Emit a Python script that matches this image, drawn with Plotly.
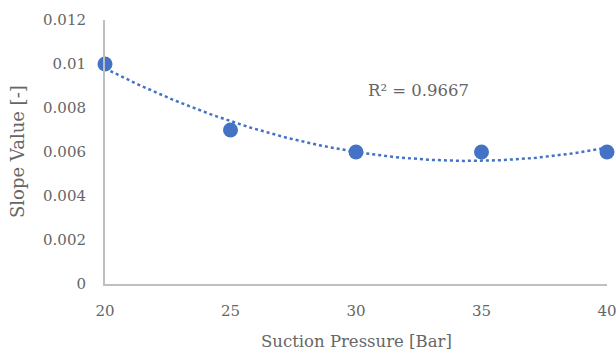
import numpy as np
import plotly.graph_objects as go

pressure = [20, 25, 30, 35, 40]
slope = [0.010, 0.007, 0.006, 0.006, 0.006]
y_ticks = [0, 0.002, 0.004, 0.006, 0.008, 0.010, 0.012]
y_ticktext = ["0", "0.002", "0.004", "0.006", "0.008", "0.01", "0.012"]
x_ticks = [20, 25, 30, 35, 40]
x_title = "Suction Pressure [Bar]"
y_title = "Slope Value [-]"

# order-2 polynomial trendline (as Excel's)
coef = np.polyfit(pressure, slope, 2)
xs = np.linspace(min(pressure), max(pressure), 200)
ys = np.polyval(coef, xs)
pred = np.polyval(coef, pressure)
ss_res = np.sum((np.array(slope) - pred) ** 2)
ss_tot = np.sum((np.array(slope) - np.mean(slope)) ** 2)
r2 = 1 - ss_res / ss_tot

blue = "#4472C4"
grey = "#666666"
font = "DejaVu Serif"

fig = go.Figure()
fig.add_trace(go.Scatter(x=xs, y=ys, mode="lines",
                         line=dict(color=blue, width=2.5, dash="dot"),
                         hoverinfo="skip", cliponaxis=False))
fig.add_trace(go.Scatter(x=pressure, y=slope, mode="markers",
                         marker=dict(color=blue, size=15),
                         cliponaxis=False))

fig.add_annotation(x=32.5, y=0.0088, xref="x", yref="y",
                   text=f"R² = {r2:.4f}", showarrow=False,
                   font=dict(family=font, size=16.5, color=grey))
fig.add_annotation(x=0.5, y=0, xref="paper", yref="paper", yshift=-57,
                   xanchor="center", yanchor="middle",
                   text=x_title, showarrow=False,
                   font=dict(family=font, size=16.5, color=grey))
fig.add_annotation(x=0, y=0.5, xref="paper", yref="paper", xshift=-88,
                   xanchor="center", yanchor="middle", textangle=-90,
                   text=y_title, showarrow=False,
                   font=dict(family=font, size=18, color=grey))

fig.update_layout(
    width=630, height=352,
    margin=dict(l=105, r=23, t=20, b=68),
    paper_bgcolor="white", plot_bgcolor="white",
    showlegend=False,
    font=dict(family=font, color=grey, size=15),
)
fig.update_xaxes(range=[20, 40], tickvals=x_ticks, showgrid=False, zeroline=False,
                 showline=True, linecolor="#BFBFBF", linewidth=2,
                 ticks="", ticklabelstandoff=12, automargin=False,
                 tickfont=dict(family=font, size=15, color=grey))
fig.update_yaxes(range=[0, 0.012], tickvals=y_ticks, ticktext=y_ticktext,
                 showgrid=False, zeroline=False,
                 showline=True, linecolor="#BFBFBF", linewidth=2,
                 ticks="", ticklabelstandoff=14, automargin=False,
                 tickfont=dict(family=font, size=15, color=grey))

fig.write_html(
    "out.html",
    config={"displayModeBar": False},
    post_script="document.body.style.margin='0';document.body.style.overflow='hidden';",
)
